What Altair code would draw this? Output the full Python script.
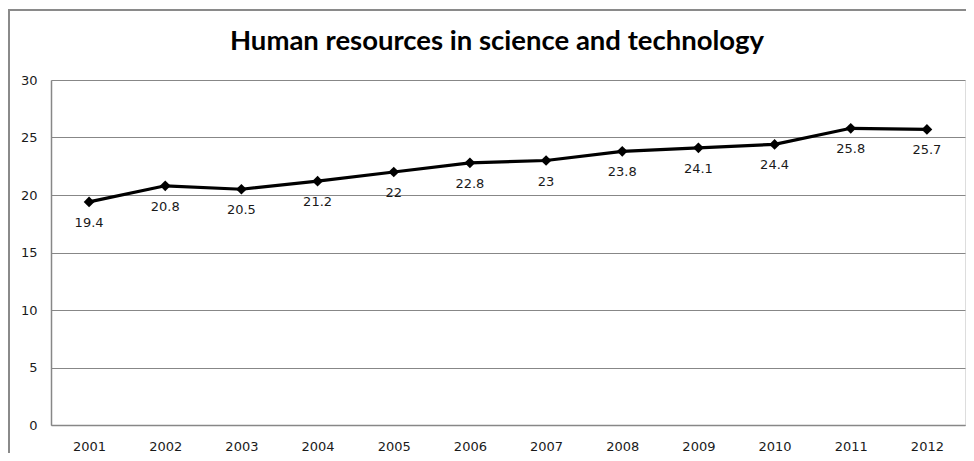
import altair as alt
import pandas as pd

years = ["2001", "2002", "2003", "2004", "2005", "2006", "2007", "2008", "2009", "2010", "2011", "2012"]
values = [19.4, 20.8, 20.5, 21.2, 22, 22.8, 23, 23.8, 24.1, 24.4, 25.8, 25.7]
labels = ["19.4", "20.8", "20.5", "21.2", "22", "22.8", "23", "23.8", "24.1", "24.4", "25.8", "25.7"]
title_text = "Human resources in science and technology"

df = pd.DataFrame({"year": years, "value": values, "label": labels})

W, H = 914, 345
FONT = "DejaVu Sans"
GRID = "#878787"

x = alt.X("year:O", sort=years, title=None,
          scale=alt.Scale(type="point", padding=0.5),
          axis=alt.Axis(labelAngle=0, labelFont=FONT, labelFontSize=13, labelColor="#1a1a1a",
                        labelPadding=15, ticks=False, domainColor=GRID, domainWidth=1.5,
                        grid=False))
y = alt.Y("value:Q", title=None,
          scale=alt.Scale(domain=[0, 30], nice=False),
          axis=alt.Axis(values=[0, 5, 10, 15, 20, 25, 30], labelFont=FONT, labelFontSize=13,
                        labelColor="#1a1a1a", labelPadding=14, ticks=False, domainColor=GRID,
                        domainWidth=1.5, gridColor=GRID, gridWidth=1.2, gridOpacity=1))

base = alt.Chart(df)

frame = base.mark_rect(fill=None, stroke="#8a8a8a", strokeWidth=2, clip=False).encode(
    x=alt.value(-42), y=alt.value(-70), x2=alt.value(W + 60), y2=alt.value(H + 60)
).transform_filter(alt.datum.year == "2001")

title = base.mark_text(font="Lato", fontSize=27.5, fontWeight="bold", color="black",
                       align="center", baseline="alphabetic").encode(
    x=alt.value(446), y=alt.value(-30), text=alt.value(title_text)
).transform_filter(alt.datum.year == "2001")

line = base.mark_line(color="black", strokeWidth=3.2).encode(x=x, y=y)
pts = base.mark_point(shape="diamond", filled=True, color="black", size=115, opacity=1).encode(x=x, y=y)
txt = base.mark_text(dy=21, font=FONT, fontSize=13, color="#1a1a1a").encode(x=x, y=y, text="label:N")

chart = alt.layer(frame, title, line, pts, txt).properties(
    width=W, height=H,
    autosize=alt.AutoSizeParams(type="none"),
    padding={"left": 43, "top": 72, "right": 1, "bottom": 28},
).configure_view(stroke=None).configure(background="white")

chart.save("out.html", embed_options={"renderer": "svg", "actions": False})
